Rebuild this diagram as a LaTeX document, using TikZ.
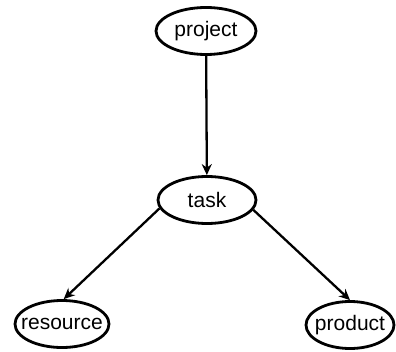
\documentclass[tikz,border=0pt]{standalone}
\usepackage{fontspec}
\setmainfont{Liberation Sans}
\usetikzlibrary{shapes.geometric,arrows.meta}
% label that does not widen its ellipse
\newcommand{\entitylabel}[1]{\makebox[0pt]{#1}}
\begin{document}
\begin{tikzpicture}[x=1pt,y=1pt,
  entity/.style={ellipse,draw,line width=2.8pt,inner sep=0pt,
    minimum width=#1,minimum height=47pt,font=\fontsize{21}{21}\selectfont},
  link/.style={line width=2.3pt,-{Stealth[length=11pt,width=10pt]}}]
\useasboundingbox (0,0) rectangle (396,351);
\node[entity=100pt] (project)  at (206,320) {\entitylabel{project}};
\node[entity=98pt]  (task)     at (207,151) {\entitylabel{task}};
\node[entity=94pt]  (resource) at (62,27)   {\entitylabel{resource}};
\node[entity=88pt]  (product)  at (350,26)  {\entitylabel{product}};
\draw[link] (project) -- (task);
\draw[link] (task.190) -- (resource.86);
\draw[link] (task.-12) -- (product.north);
\end{tikzpicture}
\end{document}
